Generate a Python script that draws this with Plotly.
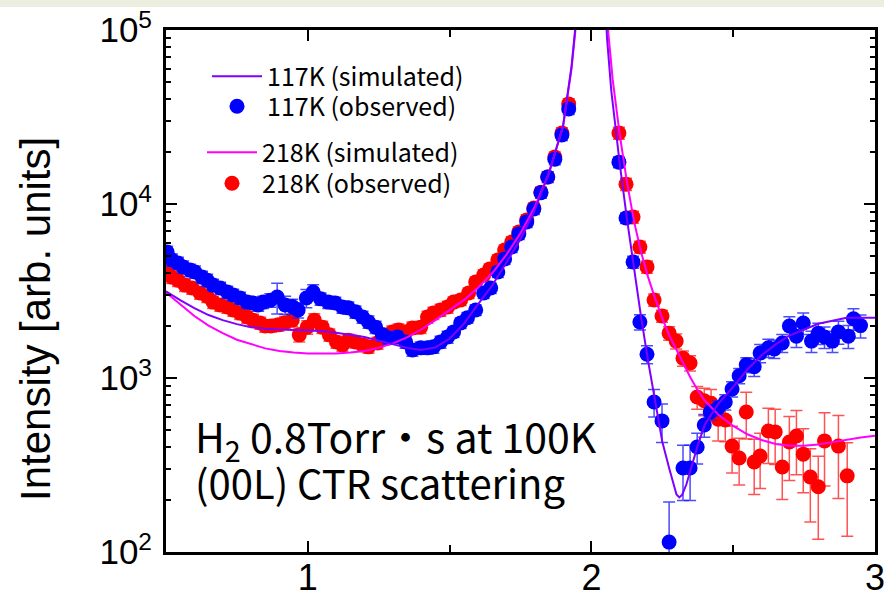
import plotly.graph_objects as go

# ---- observed CTR intensities, 117 K ----
L_117 = [0.504, 0.521, 0.542, 0.560, 0.585, 0.602, 0.627, 0.645, 0.666, 0.691,
         0.716, 0.737, 0.761, 0.786, 0.807, 0.825, 0.843, 0.868, 0.892, 0.920,
         0.945, 0.966, 0.995, 1.019, 1.045, 1.072, 1.097, 1.122, 1.143, 1.168,
         1.193, 1.214, 1.239, 1.263, 1.284, 1.316, 1.345, 1.369, 1.398, 1.422,
         1.443, 1.468, 1.493, 1.514, 1.539, 1.563, 1.592, 1.620, 1.645, 1.670,
         1.694, 1.719, 1.744, 1.772, 1.797, 1.822, 1.846, 1.871, 1.896, 1.920,
         2.097, 2.122, 2.147, 2.171, 2.196, 2.221, 2.249, 2.274, 2.323, 2.348,
         2.373, 2.398, 2.419, 2.447, 2.472, 2.496, 2.521, 2.546, 2.574, 2.595,
         2.624, 2.645, 2.673, 2.698, 2.723, 2.747, 2.776, 2.800, 2.822, 2.850,
         2.871, 2.906, 2.924, 2.949]
I_117 = [5300, 4770, 4580, 4350, 4170, 4070, 3800, 3650, 3420, 3290,
         3120, 3000, 2880, 2730, 2700, 2630, 2730, 2800, 2920, 2630,
         2580, 2460, 2880, 3120, 2850, 2730, 2700, 2560, 2530, 2400,
         2240, 2100, 1960, 1770, 1700, 1720, 1610, 1450, 1490, 1490,
         1510, 1610, 1720, 1840, 2070, 2220, 2460, 3080, 3290, 4070,
         4830, 5660, 6730, 7890, 9360, 11600, 14300, 18100, 24900, 35200,
         17400, 8310, 4640, 2100, 1370, 728, 567, 114, 304, 304,
         401, 537, 638, 673, 728, 865, 1030, 1190, 1160, 1390,
         1490, 1470, 1590, 1990, 1740, 2070, 1630, 1810, 1720, 1630,
         1840, 1740, 2190, 2000]
relerr_117 = [0.08, 0.08, 0.08, 0.08, 0.08, 0.08, 0.08, 0.08, 0.08, 0.08,
              0.08, 0.08, 0.08, 0.08, 0.08, 0.08, 0.08, 0.09, 0.20, 0.12,
              0.10, 0.10, 0.12, 0.10, 0.08, 0.08, 0.08, 0.08, 0.08, 0.08,
              0.08, 0.08, 0.08, 0.08, 0.08, 0.08, 0.08, 0.08, 0.08, 0.08,
              0.08, 0.08, 0.08, 0.07, 0.07, 0.07, 0.07, 0.07, 0.07, 0.07,
              0.07, 0.07, 0.07, 0.07, 0.07, 0.07, 0.07, 0.07, 0.07, 0.07,
              0.07, 0.07, 0.08, 0.10, 0.12, 0.18, 0.25, 0.70, 0.35, 0.35,
              0.20, 0.15, 0.10, 0.10, 0.10, 0.10, 0.10, 0.10, 0.12, 0.12,
              0.12, 0.12, 0.12, 0.13, 0.14, 0.14, 0.14, 0.14, 0.14, 0.14,
              0.15, 0.15, 0.14, 0.15]

# ---- observed CTR intensities, 218 K ----
L_218 = [0.504, 0.521, 0.542, 0.567, 0.592, 0.620, 0.645, 0.666, 0.691, 0.716,
         0.737, 0.761, 0.786, 0.807, 0.832, 0.850, 0.870, 0.896, 0.920, 0.945,
         0.970, 0.998, 1.023, 1.051, 1.076, 1.101, 1.122, 1.143, 1.168, 1.193,
         1.214, 1.246, 1.267, 1.298, 1.320, 1.345, 1.369, 1.398, 1.422, 1.443,
         1.468, 1.493, 1.514, 1.539, 1.567, 1.592, 1.620, 1.641, 1.670, 1.694,
         1.719, 1.744, 1.772, 1.797, 1.822, 1.846, 1.871, 1.896, 1.920,
         2.097, 2.122, 2.147, 2.171, 2.196, 2.221, 2.249, 2.274, 2.299, 2.323,
         2.348, 2.373, 2.398, 2.422, 2.447, 2.472, 2.496, 2.521, 2.546, 2.574,
         2.595, 2.624, 2.648, 2.673, 2.698, 2.723, 2.747, 2.772, 2.800, 2.822,
         2.871, 2.902]
I_218 = [4070, 3800, 3650, 3420, 3290, 3080, 2950, 2730, 2630, 2560,
         2460, 2360, 2240, 2150, 2070, 1990, 1990, 2020, 2080, 2150,
         1770, 1960, 2150, 1960, 1770, 1610, 1550, 1650, 1610, 1550,
         1510, 1590, 1770, 1840, 1890, 1840, 1940, 1960, 2240, 2360,
         2460, 2560, 2730, 2810, 3080, 3560, 3910, 4230, 4770, 5440,
         6050, 6910, 8100, 9480, 11700, 14300, 18600, 25600, 37600,
         25600, 13000, 8420, 5660, 4350, 2810, 2270, 1810, 1630, 1300,
         1220, 778, 740, 715, 580, 574, 406, 347, 638, 329,
         356, 496, 490, 308, 429, 464, 365, 270, 237, 435,
         406, 274]
relerr_218 = [0.08, 0.08, 0.08, 0.08, 0.08, 0.08, 0.08, 0.08, 0.08, 0.08,
              0.08, 0.08, 0.08, 0.08, 0.08, 0.08, 0.08, 0.08, 0.08, 0.08,
              0.09, 0.09, 0.09, 0.08, 0.08, 0.08, 0.08, 0.08, 0.08, 0.08,
              0.08, 0.08, 0.08, 0.08, 0.08, 0.08, 0.08, 0.08, 0.08, 0.08,
              0.08, 0.08, 0.07, 0.07, 0.07, 0.07, 0.07, 0.07, 0.07, 0.07,
              0.07, 0.07, 0.07, 0.07, 0.07, 0.07, 0.07, 0.07, 0.07,
              0.08, 0.08, 0.08, 0.08, 0.08, 0.08, 0.08, 0.09, 0.10, 0.10,
              0.10, 0.15, 0.18, 0.20, 0.25, 0.25, 0.30, 0.30, 0.30, 0.35,
              0.35, 0.35, 0.35, 0.35, 0.40, 0.40, 0.40, 0.45, 0.50, 0.45,
              0.50, 0.55]

# ---- simulated CTR profiles ----
Ls_117 = [0.50, 0.55, 0.60, 0.65, 0.70, 0.75, 0.80, 0.85, 0.90, 0.95,
          1.00, 1.05, 1.10, 1.15, 1.20, 1.25, 1.30, 1.35, 1.40, 1.45,
          1.50, 1.55, 1.60, 1.65, 1.70, 1.75, 1.80, 1.85, 1.90, 1.93,
          1.945, 1.96,
          2.04, 2.055, 2.07, 2.085, 2.10, 2.125, 2.15, 2.175, 2.20, 2.225,
          2.25, 2.275, 2.29, 2.30, 2.31, 2.32, 2.335, 2.35, 2.375, 2.40,
          2.45, 2.50, 2.55, 2.60, 2.65, 2.70, 2.80, 2.90, 3.00]
Is_117 = [3150, 2800, 2520, 2300, 2150, 2040, 1960, 1920, 1900, 1890,
          1880, 1860, 1820, 1770, 1720, 1640, 1560, 1490, 1450, 1500,
          1680, 2050, 2650, 3400, 4600, 6300, 9200, 15000, 28000, 62000,
          110000, 250000,
          300000, 90000, 45000, 27000, 17000, 8300, 4300, 2250, 1250, 720,
          430, 300, 240, 214, 206, 213, 245, 300, 410, 540,
          720, 890, 1120, 1350, 1560, 1760, 2050, 2220, 2220]

Ls_218 = [0.50, 0.55, 0.60, 0.65, 0.70, 0.75, 0.80, 0.85, 0.90, 0.95,
          1.00, 1.05, 1.10, 1.15, 1.20, 1.25, 1.30, 1.35, 1.40, 1.45,
          1.50, 1.55, 1.60, 1.65, 1.70, 1.75, 1.80, 1.85, 1.90, 1.93,
          1.945, 1.96,
          2.04, 2.06, 2.075, 2.09, 2.10, 2.125, 2.15, 2.175, 2.20, 2.225,
          2.25, 2.275, 2.30, 2.325, 2.35, 2.375, 2.40, 2.45, 2.50, 2.55,
          2.60, 2.65, 2.70, 2.75, 2.80, 2.85, 2.90, 2.95, 3.00]
Is_218 = [3100, 2650, 2270, 2000, 1810, 1660, 1560, 1480, 1430, 1400,
          1385, 1380, 1385, 1400, 1430, 1490, 1580, 1710, 1900, 2150,
          2450, 2800, 3300, 4000, 5100, 6800, 9600, 15000, 28000, 60000,
          105000, 240000,
          320000, 95000, 52000, 32000, 25000, 13500, 8000, 5300, 3800, 2850,
          2200, 1750, 1450, 1200, 1000, 850, 740, 610, 530, 475,
          440, 418, 408, 408, 415, 428, 442, 455, 465]

y_tickvals = [100, 1000, 10000, 100000]
y_ticktext = ["10<sup>2</sup>", "10<sup>3</sup>", "10<sup>4</sup>", "10<sup>5</sup>"]
x_tickvals = [1, 2, 3]

err_117 = [i * r for i, r in zip(I_117, relerr_117)]
err_218 = [i * r for i, r in zip(I_218, relerr_218)]

TXT_FONT = "Noto Sans CJK JP"
AX_FONT = "Liberation Sans"
LEG_FONT = dict(family=TXT_FONT, size=25, color="black")

fig = go.Figure()

fig.add_trace(go.Scatter(
    x=L_218, y=I_218, mode="markers", name="218K (observed)",
    marker=dict(color="#ff0000", size=15),
    error_y=dict(type="data", array=err_218, color="rgba(255,40,40,0.8)",
                 thickness=1.5, width=6),
    legend="legend4"))
fig.add_trace(go.Scatter(
    x=L_117, y=I_117, mode="markers", name="117K (observed)",
    marker=dict(color="#0000ff", size=15),
    error_y=dict(type="data", array=err_117, color="rgba(30,30,255,0.8)",
                 thickness=1.5, width=6),
    legend="legend2"))
fig.add_trace(go.Scatter(
    x=Ls_218, y=Is_218, mode="lines", name="218K (simulated)",
    line=dict(color="#ff00ff", width=2),
    legend="legend3"))
fig.add_trace(go.Scatter(
    x=Ls_117, y=Is_117, mode="lines", name="117K (simulated)",
    line=dict(color="#8000ff", width=2),
    legend="legend"))

minor_y = [m * 10 ** e for e in (2, 3, 4) for m in range(2, 10)]

fig.update_xaxes(
    range=[0.5, 3.0], tickvals=x_tickvals, ticktext=[str(v) for v in x_tickvals],
    ticks="inside", ticklen=11, tickwidth=2, tickcolor="black",
    minor=dict(tickvals=[1.5, 2.5], ticks="inside", ticklen=7, tickwidth=2,
               tickcolor="black"),
    showline=True, linecolor="black", linewidth=3, mirror="ticks",
    showgrid=False, zeroline=False, automargin=False,
    tickfont=dict(family=AX_FONT, size=36, color="black"),
    ticklabelstandoff=-8, ticklabeloverflow="allow")
fig.update_yaxes(
    type="log", range=[2, 5], tickvals=y_tickvals, ticktext=y_ticktext,
    ticks="inside", ticklen=11, tickwidth=2, tickcolor="black",
    minor=dict(tickvals=minor_y, ticks="inside", ticklen=5, tickwidth=1.5,
               tickcolor="black"),
    showline=True, linecolor="black", linewidth=3, mirror="ticks",
    showgrid=False, zeroline=False, automargin=False,
    tickfont=dict(family=AX_FONT, size=35, color="black"),
    ticklabelstandoff=4, ticklabeloverflow="allow")


def legend_box(px_left, px_top):
    return dict(x=(px_left - 166) / 709, y=(552 - px_top) / 522,
                xanchor="left", yanchor="top", bgcolor="rgba(0,0,0,0)",
                font=LEG_FONT, itemwidth=50)


fig.update_layout(
    width=884, height=599,
    margin=dict(l=166, r=9, t=30, b=47, autoexpand=False),
    paper_bgcolor="white", plot_bgcolor="white",
    showlegend=True,
    legend=legend_box(207, 53.5),
    legend2=legend_box(207, 83.5),
    legend3=legend_box(202, 129.5),
    legend4=legend_box(202, 160.5),
    shapes=[dict(type="rect", xref="paper", yref="paper",
                 x0=-0.3, x1=1.1, y0=1 + 23 / 522, y1=1 + 30 / 522,
                 fillcolor="#eceee0", line=dict(width=0), layer="below")],
    annotations=[
        dict(text="Intensity [arb. units]", xref="paper", yref="paper",
             x=(35 - 166) / 709, y=(552 - 319) / 522, textangle=-90,
             showarrow=False, xanchor="center", yanchor="middle",
             font=dict(family=AX_FONT, size=42, color="black")),
        dict(text="H<sub>2</sub> 0.8Torr・s at 100K", xref="paper", yref="paper",
             x=(193 - 166) / 709, y=(552 - 438) / 522, showarrow=False,
             xanchor="left", yanchor="middle",
             font=dict(family=TXT_FONT, size=41, color="black")),
        dict(text="(00L) CTR scattering", xref="paper", yref="paper",
             x=(193 - 166) / 709, y=(552 - 482) / 522, showarrow=False,
             xanchor="left", yanchor="middle",
             font=dict(family=TXT_FONT, size=40, color="black")),
    ],
)

fig.write_html("out.html")
